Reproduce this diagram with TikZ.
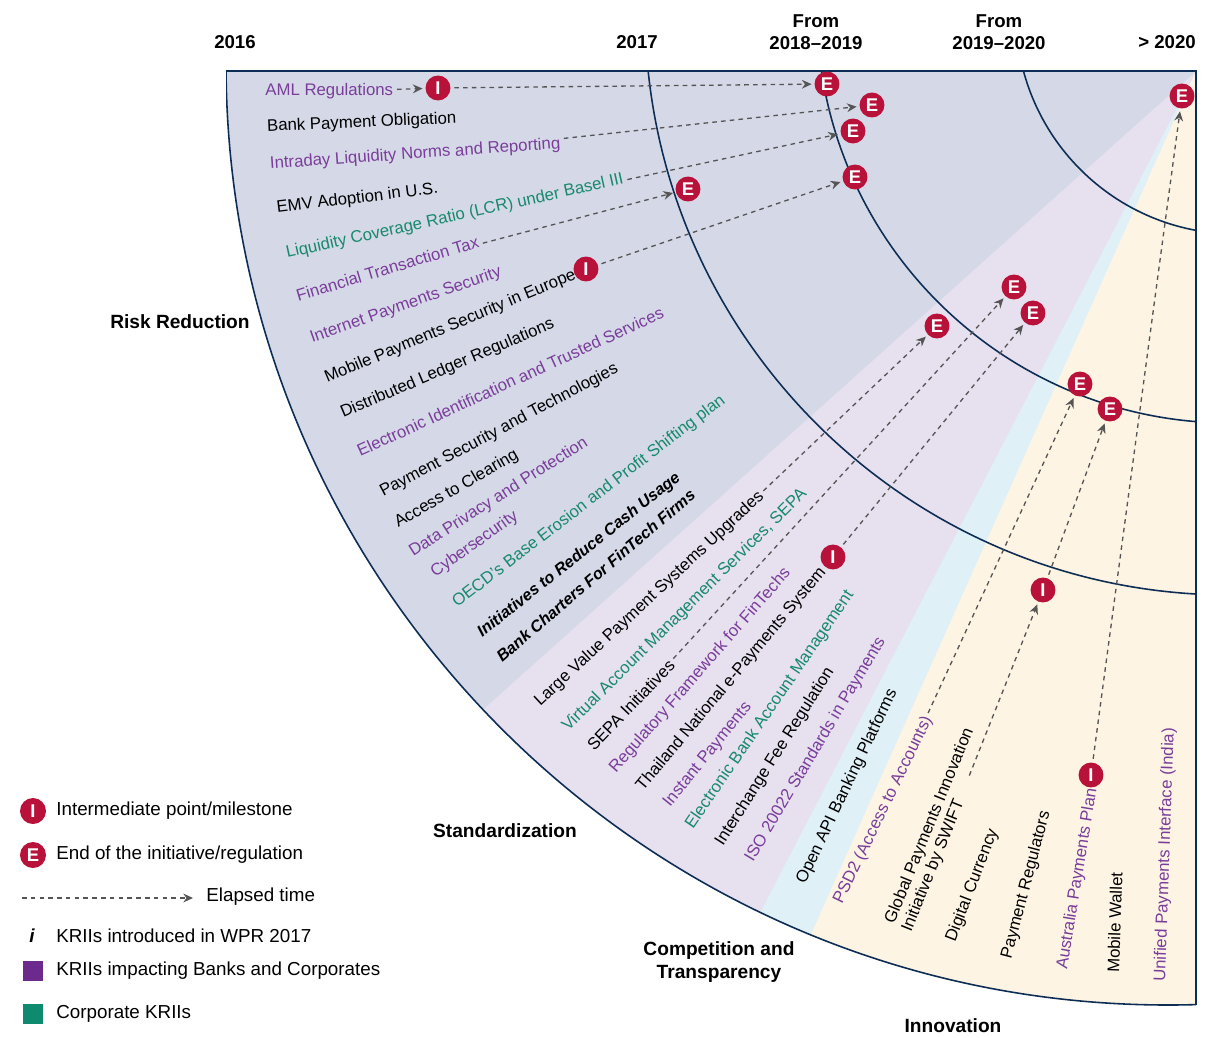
\documentclass[tikz,border=0pt]{standalone}
\usepackage{fontspec}
\setmainfont{Liberation Sans}
\usepackage{xcolor}
\usepackage{tikz}
\usetikzlibrary{arrows.meta, positioning}

\definecolor{riskfill}{HTML}{D5D9E7}
\definecolor{stdfill}{HTML}{E6E0EF}
\definecolor{compfill}{HTML}{DFF0F7}
\definecolor{innofill}{HTML}{FEF4E4}
\definecolor{navy}{HTML}{0D2D55}
\definecolor{crimson}{HTML}{B8123B}
\definecolor{kpurple}{HTML}{7A3D9A}
\definecolor{kgreen}{HTML}{17896C}
\definecolor{boxpurple}{HTML}{6B2A8C}
\definecolor{boxgreen}{HTML}{0E8A6F}
\definecolor{arrowgrey}{HTML}{555555}

\tikzset{
  marker/.style={circle, fill=crimson, text=white, inner sep=0pt, minimum size=14.2pt,
    font=\fontsize{10.5}{10.5}\selectfont\bfseries},
  kri/.style={anchor=base west, inner sep=0pt, font=\fontsize{9.55}{11}\selectfont},
  purp/.style={text=kpurple},
  grn/.style={text=kgreen},
  newkri/.style={font=\fontsize{9.2}{11}\selectfont\bfseries\itshape},
  yearhead/.style={font=\fontsize{10.6}{12.6}\selectfont\bfseries, align=center},
  zone/.style={font=\fontsize{10.9}{12.8}\selectfont\bfseries, align=center, inner sep=0pt},
  lgd/.style={anchor=west, inner sep=0pt, font=\fontsize{10.7}{13}\selectfont},
  elapsed/.style={draw=arrowgrey, line width=0.75pt, dash pattern=on 2.6pt off 2.4pt,
    -{Stealth[length=5.5pt,width=5pt]}, shorten >=1.5pt, shorten <=2pt}
}

\begin{document}
\begin{tikzpicture}[x=0.02cm, y=-0.02cm]
  \useasboundingbox (0,0) rectangle (1219,1037);

  % bands of the fan
  \begin{scope}
    \clip (226,71) rectangle (1196,1010);
    \clip (1168,63) circle[radius=942];
    \fill[innofill] (0,0) rectangle (1219,1037);
    \fill[compfill] (1196,71) -- (737,1100) -- (0,1100) -- (0,71) -- cycle;
    \fill[stdfill] (1196,71) -- (663,1100) -- (0,1100) -- (0,71) -- cycle;
    \fill[riskfill] (1196,71) -- (47,1100) -- (0,1100) -- (0,71) -- cycle;
  \end{scope}

  % time rings
  \begin{scope}[navy, line width=0.9pt]
    \clip (226,71) rectangle (1196,1010);
    \draw (1230,10) circle[radius=585];
    \draw (1230,10) circle[radius=413];
    \draw (1236,14) circle[radius=220];
    \draw (1168,63) circle[radius=942];
  \end{scope}
  \draw[navy, line width=1.1pt] (226,71) -- (1196,71) -- (1196,1005);

  \begin{scope}[every node/.style=yearhead]
    \node (y16) at (235,42) {2016};
    \node (y17) at (637,42) {2017};
    \node (y18) at (816,32) {From\\2018–2019};
    \node (y19) at (999,32) {From\\2019–2020};
    \node (y20) at (1167,42) {> 2020};
  \end{scope}
  \begin{scope}[every node/.style=zone]
    \node[anchor=east] (risk) at (250,322) {Risk Reduction};
    \node (std) at (505,831) {Standardization};
    \node (comp) at (719,962) {Competition and\\Transparency};
    \node (inno) at (953,1026) {Innovation};
  \end{scope}

  \begin{scope}[every node/.style=kri]
    \node[purp] (rk1) at (265,96) {AML Regulations};
    \node[rotate=2.5] (rk2) at (267,131.5) {Bank Payment Obligation};
    \node[purp, rotate=4] (rk3) at (270,169) {Intraday Liquidity Norms and Reporting};
    \node[rotate=7] (rk4) at (277,213) {EMV Adoption in U.S.};
    \node[grn, rotate=12.4] (rk5) at (287,258) {Liquidity Coverage Ratio (LCR) under Basel III};
    \node[purp, rotate=16.7] (rk6) at (298,301.5) {Financial Transaction Tax};
    \node[purp, rotate=19.5] (rk7) at (312,343) {Internet Payments Security};
    \node[rotate=22.7] (rk8) at (327,383) {Mobile Payments Security in Europe};
    \node[rotate=23.1] (rk9) at (343,418) {Distributed Ledger Regulations};
    \node[purp, rotate=24.6] (rk10) at (360,457) {Electronic Identification and Trusted Services};
    \node[rotate=27.9] (rk11) at (383,497) {Payment Security and Technologies};
    \node[rotate=30.1] (rk12) at (398,528) {Access to Clearing};
    \node[purp, rotate=32.5] (rk13) at (413,557) {Data Privacy and Protection};
    \node[purp, rotate=35.4] (rk14) at (435,578) {Cybersecurity};
    \node[grn, rotate=37.4] (rk15) at (457,608) {OECD’s Base Erosion and Profit Shifting plan};
    \node[newkri, rotate=38.5] (rk16) at (482,638) {Initiatives to Reduce Cash Usage};
    \node[newkri, rotate=40.5] (rk17) at (502,663) {Bank Charters For FinTech Firms};

    \node[rotate=43] (sd1) at (540,707) {Large Value Payment Systems Upgrades};
    \node[grn, rotate=44.8] (sd2) at (568,732) {Virtual Account Management Services, SEPA};
    \node[rotate=46.2] (sd3) at (594,752) {SEPA Initiatives};
    \node[purp, rotate=48.9] (sd4) at (616,774) {Regulatory Framework for FinTechs};
    \node[rotate=50.1] (sd5) at (643,792) {Thailand National e-Payments System};
    \node[purp, rotate=51] (sd6) at (670,808) {Instant Payments};
    \node[grn, rotate=55.6] (sd7) at (693,830) {Electronic Bank Account Management};
    \node[rotate=57.6] (sd8) at (723,847) {Interchange Fee Regulation};
    \node[purp, rotate=59.2] (sd9) at (753,863) {ISO 20022 Standards in Payments};

    \node[rotate=64.5] (cp1) at (805,885) {Open API Banking Platforms};

    \node[purp, rotate=64.1] (in1) at (842,905) {PSD2 (Access to Accounts)};
    \node[rotate=67.8] (in2) at (894,925) {Global Payments Innovation};
    \node[rotate=68] (in3) at (911,933) {Initiative by SWIFT};
    \node[rotate=69] (in4) at (955,943) {Digital Currency};
    \node[rotate=75.3] (in5) at (1011,960) {Payment Regulators};
    \node[purp, rotate=80.7] (in6) at (1067,970) {Australia Payments Plan};
    \node[rotate=88] (in7) at (1119,973) {Mobile Wallet};
    \node[purp, rotate=88] (in8) at (1165,982) {Unified Payments Interface (India)};
  \end{scope}

  \begin{scope}[every node/.style=marker]
    \node (i1) at (438,88) {I};
    \node (e1) at (827,84) {E};
    \node (e2) at (872,105) {E};
    \node (e3) at (853,131) {E};
    \node (e4) at (688,189) {E};
    \node (i2) at (586,269) {I};
    \node (e5) at (855,177) {E};
    \node (e6) at (937,326) {E};
    \node (e7) at (1014,287) {E};
    \node (i3) at (833,557) {I};
    \node (e8) at (1033,313) {E};
    \node (e9) at (1080,384) {E};
    \node (i4) at (1043,590) {I};
    \node (e10) at (1110,409) {E};
    \node (i5) at (1091,775) {I};
    \node (e11) at (1182,96) {E};
  \end{scope}

  \begin{scope}[every edge/.style=elapsed]
    \path (rk1) edge (i1);
    \path (i1) edge (e1);
    \path (rk3) edge (e2);
    \path (rk5) edge (e3);
    \path (rk6) edge (e4);
    \path (i2) edge (e5);
    \path (sd1) edge (e6);
    \path (sd3) edge (e7);
    \path (i3) edge (e8);
    \path (in1) edge (e9);
    \path (in3) edge[shorten <=15pt] (i4);
    \path (i4) edge (e10);
    \path (i5) edge (e11);
  \end{scope}

  % legend
  \node[marker, minimum size=14.8pt] (li) at (33,811) {I};
  \node[lgd, right=5.5pt of li] (lit) {Intermediate point/milestone};
  \node[marker, minimum size=14.8pt] (le) at (33,855) {E};
  \node[lgd, right=5.5pt of le] (let) {End of the initiative/regulation};
  \coordinate (la) at (22,898);
  \coordinate (lb) at (193,898);
  \draw[elapsed, shorten <=0pt, shorten >=0pt] (la) -- (lb);
  \node[lgd] (lt) at (206,897) {Elapsed time};
  \node[font=\fontsize{10.7}{13}\selectfont\bfseries\itshape] (lnew) at (32,936) {i};
  \node[lgd] (lnt) at (56,936) {KRIIs introduced in WPR 2017};
  \node[fill=boxpurple, minimum size=11.3pt, inner sep=0pt] (lp) at (33,971) {};
  \node[lgd] (lpt) at (56,971) {KRIIs impacting Banks and Corporates};
  \node[fill=boxgreen, minimum size=11.3pt, inner sep=0pt] (lg) at (33,1014) {};
  \node[lgd] (lgt) at (56,1014) {Corporate KRIIs};
\end{tikzpicture}
\end{document}
